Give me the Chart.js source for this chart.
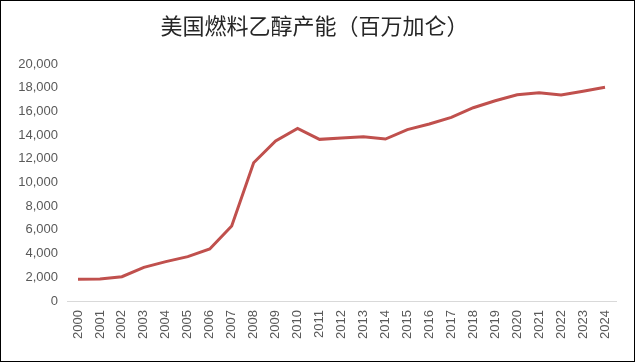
<!DOCTYPE html>
<html lang="zh">
<head>
    <meta charset="UTF-8">
    <title>美国燃料乙醇产能</title>
    <script src="https://cdn.jsdelivr.net/npm/chart.js"></script>
    <style>
        body { margin: 0; background: #fff; }
        .chart-box {
            width: 635px;
            height: 362px;
            box-sizing: border-box;
            border: 1px solid #000;
            position: relative;
        }
    </style>
</head>
<body>
    <div class="chart-box">
        <canvas id="capacityChart"></canvas>
    </div>

    <script>
        // 年份
        const years = ['2000', '2001', '2002', '2003', '2004', '2005', '2006', '2007', '2008', '2009',
                       '2010', '2011', '2012', '2013', '2014', '2015', '2016', '2017', '2018', '2019',
                       '2020', '2021', '2022', '2023', '2024'];
        // 产能 (百万加仑)
        const capacity = [1830, 1850, 2050, 2840, 3320, 3740, 4390, 6330, 11670, 13500,
                          14570, 13640, 13750, 13860, 13670, 14460, 14940, 15500, 16310, 16900,
                          17410, 17580, 17380, 17700, 18030];
        // y轴刻度
        const yMin = 0;
        const yMax = 20000;
        const yStep = 2000;

        const ctx = document.getElementById('capacityChart').getContext('2d');
        const chart = new Chart(ctx, {
            type: 'line',
            data: {
                labels: years,
                datasets: [{
                    label: '产能',
                    data: capacity,
                    borderColor: '#C0504D',
                    borderWidth: 3,
                    pointRadius: 0,
                    tension: 0,
                    fill: false
                }]
            },
            options: {
                responsive: true,
                maintainAspectRatio: false,
                animation: false,
                layout: {
                    padding: { left: 12, right: 18, top: 0, bottom: 0 }
                },
                plugins: {
                    legend: { display: false },
                    tooltip: { enabled: false },
                    title: {
                        display: true,
                        text: '美国燃料乙醇产能（百万加仑）',
                        color: '#262626',
                        font: { family: '"Noto Sans CJK SC"', size: 22, weight: 'normal' },
                        padding: { top: 11, bottom: 25.6 }
                    }
                },
                scales: {
                    x: {
                        offset: true,
                        grid: { display: false, drawTicks: false },
                        border: { display: true, color: '#d9d9d9', width: 1 },
                        ticks: {
                            autoSkip: false,
                            minRotation: 90,
                            maxRotation: 90,
                            padding: 9,
                            color: '#595959',
                            font: { family: '"Liberation Sans", Arial', size: 13 }
                        },
                        afterFit: function (scale) { scale.height = 60; }
                    },
                    y: {
                        min: yMin,
                        max: yMax,
                        grid: { display: false, drawTicks: false },
                        border: { display: false },
                        ticks: {
                            stepSize: yStep,
                            padding: 9,
                            color: '#595959',
                            font: { family: '"Liberation Sans", Arial', size: 13 },
                            callback: function (v) { return v.toLocaleString('en-US'); }
                        },
                        afterFit: function (scale) { scale.width = 54; }
                    }
                }
            }
        });
    </script>
</body>
</html>
